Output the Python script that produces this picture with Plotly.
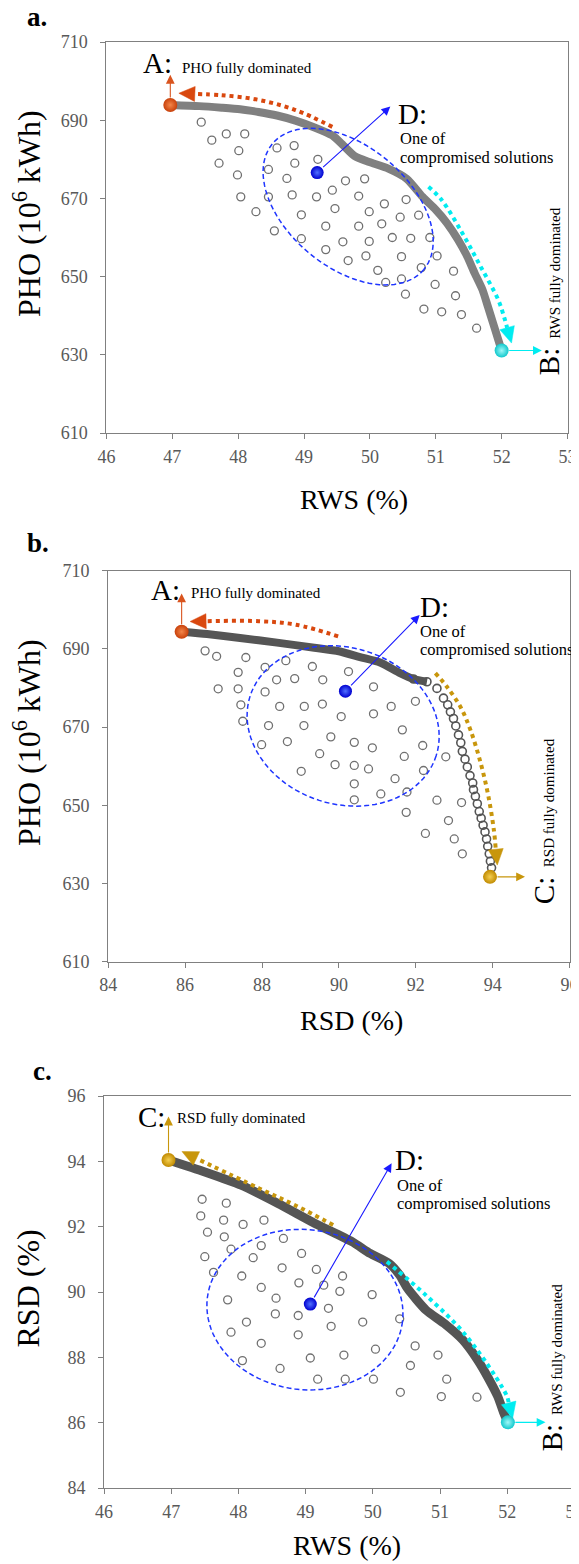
import math
import plotly.graph_objects as go

W, H = 579, 1564
OX, OY = 8, 8          # the page body adds an 8px margin; compensate
FONT = "Liberation Serif, Times New Roman, serif"

# ---------------- data ----------------
# panel a : RWS (%) vs PHO (10^6 kWh)
a_front_rws = [46.97, 47.41, 47.75, 48.03, 48.31, 48.59, 48.87, 49.15, 49.43, 49.60, 49.77, 49.99,
               50.28, 50.56, 50.80, 51.00, 51.17, 51.34, 51.48, 51.59, 51.71, 51.79, 51.87, 51.95, 52.00]
a_front_pho = [693.9, 693.6, 693.2, 692.8, 692.1, 691.2, 689.9, 688.2, 686.1, 683.5, 680.8, 679.3,
               677.6, 675.0, 670.4, 667.1, 663.7, 659.4, 655.1, 650.9, 646.6, 642.4, 638.1, 633.8, 631.1]
a_dom_rws = [47.44, 47.60, 47.82, 48.10, 48.01, 47.71, 47.99, 48.59, 48.85, 48.86, 49.21, 48.46, 48.74,
             49.63, 49.92, 49.43, 48.04, 48.46, 48.82, 49.19, 49.83, 48.27, 48.55, 48.96, 48.96, 49.33,
             49.33, 49.47, 49.59, 49.67, 49.83, 49.94, 49.99, 49.99, 50.18, 50.22, 50.12, 50.24, 50.34,
             50.46, 50.48, 50.48, 50.54, 50.55, 50.62, 50.74, 50.78, 50.91, 50.82, 50.99, 51.02, 51.09,
             51.27, 51.30, 51.39, 51.62]
a_dom_pho = [689.5, 684.9, 686.5, 686.5, 682.2, 679.0, 676.0, 682.9, 683.5, 679.0, 680.0, 677.4, 675.1,
             674.5, 675.0, 672.1, 670.4, 670.4, 670.9, 670.4, 670.6, 666.6, 661.7, 665.8, 659.7, 662.9,
             656.9, 667.4, 658.9, 654.1, 662.9, 655.3, 666.6, 659.0, 663.5, 668.6, 651.6, 648.5, 660.0,
             665.2, 655.1, 649.4, 645.5, 669.7, 659.8, 665.7, 652.3, 660.0, 641.7, 648.0, 655.3, 641.0,
             651.4, 645.1, 640.3, 636.8]
a_A = [46.97, 693.9]
a_B = [52.00, 631.1]
a_D = [49.20, 676.6]

# panel b : RSD (%) vs PHO (10^6 kWh)
b_front_rsd = [85.91, 86.57, 87.43, 88.39, 89.36, 90.00, 90.55, 91.07, 91.59, 91.94, 92.29, 92.55,
               92.72, 92.83, 92.90, 92.98, 93.04, 93.11, 93.17, 93.21, 93.28, 93.34, 93.41, 93.48,
               93.50, 93.55, 93.60, 93.65, 93.70, 93.75, 93.80, 93.84, 93.87, 93.91, 93.94, 93.97]
b_front_pho = [694.4, 693.8, 692.8, 691.6, 690.3, 689.4, 687.9, 686.5, 683.8, 682.3, 681.6, 679.9,
               677.4, 675.7, 673.9, 672.2, 670.3, 668.0, 666.0, 663.8, 661.8, 659.8, 657.6, 655.7,
               654.0, 652.3, 650.4, 648.4, 646.7, 644.9, 643.2, 641.4, 639.5, 637.6, 635.7, 634.0]
b_dom_rsd = [86.52, 86.82, 87.58, 87.38, 88.08, 88.62, 89.31, 90.25, 88.38, 88.85, 89.58, 86.86, 87.38,
             88.08, 90.90, 87.45, 88.46, 89.10, 89.57, 91.36, 91.99, 90.06, 90.90, 87.50, 88.17, 89.09,
             91.65, 87.99, 88.66, 89.50, 89.79, 90.40, 90.87, 91.70, 92.18, 92.78, 89.90, 90.40,
             90.77, 92.20, 89.02, 90.40, 91.46, 90.40, 91.09, 91.77, 92.55, 93.19, 91.75, 92.85, 92.25,
             93.00, 93.21]
b_dom_pho = [689.5, 688.1, 687.8, 684.0, 685.3, 687.0, 685.5, 684.2, 682.1, 682.4, 682.1, 679.8, 679.8,
             679.0, 680.3, 675.7, 675.3, 675.3, 675.9, 675.3, 676.6, 672.7, 673.4, 671.5, 670.4, 670.4,
             669.3, 665.5, 666.3, 663.2, 667.5, 666.1, 664.7, 662.5, 665.3, 662.4, 660.4, 660.2,
             659.3, 658.9, 658.7, 655.5, 656.8, 651.4, 652.9, 653.4, 651.3, 650.7, 648.2, 646.1, 642.8,
             641.4, 637.6]
b_A = [85.91, 694.4]
b_C = [93.93, 631.7]
b_D = [90.17, 679.2]

# panel c : RWS (%) vs RSD (%)
c_front_rws = [46.96, 47.49, 48.04, 48.59, 49.14, 49.69, 49.96, 50.24, 50.40, 50.52, 50.79, 51.06,
               51.34, 51.56, 51.72, 51.86, 51.95, 52.01]
c_front_rsd = [94.04, 93.68, 93.27, 92.71, 92.10, 91.54, 91.18, 90.88, 90.52, 90.10, 89.45, 89.04,
               88.53, 87.92, 87.36, 86.80, 86.29, 86.01]
c_dom_rws = [47.46, 47.82, 47.44, 47.78, 48.07, 48.38, 47.54, 47.79, 48.67, 47.89, 48.34, 47.50, 48.22,
             48.94, 47.63, 48.05, 48.65, 49.16, 49.55, 48.34, 48.90, 49.27, 49.51, 49.99, 47.84, 48.56,
             49.34, 48.55, 48.89, 50.40, 48.12, 49.85, 49.38, 47.89, 48.89, 48.34, 50.63, 50.04, 50.97,
             49.57, 49.07, 48.06, 50.56, 48.62, 49.18, 49.59, 50.01, 51.10, 50.41, 51.02, 51.55]
c_dom_rsd = [92.84, 92.72, 92.33, 92.20, 92.07, 92.20, 91.83, 91.69, 91.64, 91.31, 91.42, 91.08, 91.05,
             91.18, 90.60, 90.49, 90.74, 90.69, 90.49, 90.14, 90.28, 90.21, 90.02, 89.92, 89.76, 89.81,
             89.50, 89.33, 89.28, 89.18, 89.08, 89.08, 88.95, 88.77, 88.69, 88.43, 88.35, 88.25, 88.07,
             88.07, 87.98, 87.90, 87.75, 87.66, 87.33, 87.33, 87.33, 87.33, 86.93, 86.80, 86.78]
c_C = [46.96, 94.04]
c_B = [52.01, 86.01]
c_D = [49.07, 89.63]

rws_ticks = [46, 47, 48, 49, 50, 51, 52, 53]
rsd_ticks = [84, 86, 88, 90, 92, 94, 96]
pho_ticks = [610, 630, 650, 670, 690, 710]

# ---------------- layout geometry (target pixels in the screenshot) ----------------
P = {
    'a': dict(xa='x', ya='y', px=(106.4, 567.5), py=(42.0, 433.0), xr=(46, 53), yr=(610, 710)),
    'b': dict(xa='x2', ya='y2', px=(108.2, 569.6), py=(570.7, 961.7), xr=(84, 96), yr=(610, 710)),
    'c': dict(xa='x3', ya='y3', px=(104.0, 574.4), py=(1096.0, 1488.0), xr=(46, 53), yr=(84, 96)),
}
for p in P.values():
    p['sx'] = (p['px'][1] - p['px'][0]) / (p['xr'][1] - p['xr'][0])
    p['sy'] = (p['py'][1] - p['py'][0]) / (p['yr'][1] - p['yr'][0])


def fx(px):
    return (px - OX) / W


def fy(py):
    return 1 - (py - OY) / H


RED = '#d9480f'
CYAN = '#00ecf0'
GOLD = '#c8960c'
BLUE = '#1a1aff'
GRAYC = '#707070'

fig = go.Figure()


def tr(p, **kw):
    fig.add_trace(go.Scatter(xaxis=P[p]['xa'], yaxis=P[p]['ya'], showlegend=False,
                             hoverinfo='skip', **kw))


def dotted_arrow(p, pts, color, L=16, Wd=15):
    g = P[p]
    (x1, y1), (x0, y0) = pts[-1], pts[-2]
    ux, uy = (x1 - x0) * g['sx'], (y1 - y0) * g['sy']
    n = math.hypot(ux, uy)
    ux, uy = ux / n, uy / n
    bx, by = -L * ux, -L * uy
    nx, ny = -uy, ux
    base = (x1 + bx / g['sx'], y1 + by / g['sy'])
    v1 = (x1 + (bx + nx * Wd / 2) / g['sx'], y1 + (by + ny * Wd / 2) / g['sy'])
    v2 = (x1 + (bx - nx * Wd / 2) / g['sx'], y1 + (by - ny * Wd / 2) / g['sy'])
    lx = [q[0] for q in pts[:-1]] + [base[0]]
    ly = [q[1] for q in pts[:-1]] + [base[1]]
    tr(p, x=lx, y=ly, mode='lines', line=dict(color=color, width=4, dash='dot', shape='spline'))
    tr(p, x=[x1, v1[0], v2[0], x1], y=[y1, v1[1], v2[1], y1], mode='lines', fill='toself',
       fillcolor=color, line=dict(color=color, width=0.5))


def sphere(p, pt, col, center, size=14):
    tr(p, x=[pt[0]], y=[pt[1]], mode='markers',
       marker=dict(size=size, color=col, gradient=dict(type='radial', color=center),
                   line=dict(width=0)))


# ----- panel a -----
tr('a', x=a_dom_rws, y=a_dom_pho, mode='markers',
   marker=dict(symbol='circle-open', size=8, color=GRAYC, line=dict(width=1.3)))
tr('a', x=a_front_rws, y=a_front_pho, mode='lines',
   line=dict(color='#808080', width=8, shape='spline', smoothing=0.6))
dotted_arrow('a', [(49.43, 688.3), (48.87, 692.6), (48.31, 695.2), (47.75, 696.4), (47.10, 696.9)], RED)
dotted_arrow('a', [(50.89, 673.0), (51.09, 669.6), (51.40, 661.2), (51.68, 652.6), (51.95, 644.0),
                   (52.04, 639.5), (52.15, 633.0)], CYAN)
sphere('a', a_A, '#c8400a', '#f3864a')
sphere('a', a_B, '#10c8cc', '#9ff8f8')
sphere('a', a_D, '#0000d0', '#5070ff', 13)

# ----- panel b -----
tr('b', x=b_dom_rsd, y=b_dom_pho, mode='markers',
   marker=dict(symbol='circle-open', size=8, color=GRAYC, line=dict(width=1.3)))
tr('b', x=b_front_rsd[:11], y=b_front_pho[:11], mode='lines',
   line=dict(color='#555555', width=8, shape='spline', smoothing=0.6))
tr('b', x=b_front_rsd[9:], y=b_front_pho[9:], mode='markers',
   marker=dict(symbol='circle-open', size=8, color='#555555', line=dict(width=1.6)))
dotted_arrow('b', [(89.98, 693.2), (88.88, 696.2), (87.91, 697.1), (86.57, 697.1), (86.13, 697.0)], RED)
dotted_arrow('b', [(92.51, 683.8), (92.81, 680.3), (93.16, 675.2), (93.42, 669.3), (93.69, 660.7),
                   (93.89, 652.2), (94.03, 643.7), (94.12, 634.7)], GOLD)
sphere('b', b_A, '#c8400a', '#f3864a')
sphere('b', b_C, '#c08a00', '#f5cf50')
sphere('b', b_D, '#0000d0', '#5070ff', 13)

# ----- panel c -----
tr('c', x=c_dom_rws, y=c_dom_rsd, mode='markers',
   marker=dict(symbol='circle-open', size=8, color=GRAYC, line=dict(width=1.3)))
tr('c', x=c_front_rws, y=c_front_rsd, mode='lines',
   line=dict(color='#555555', width=9, shape='spline', smoothing=0.6))
dotted_arrow('c', [(49.41, 92.05), (48.85, 92.65), (48.31, 93.17), (47.16, 94.30)], GOLD)
dotted_arrow('c', [(50.21, 90.93), (50.79, 89.90), (51.34, 88.78), (51.83, 87.40), (52.00, 86.79),
                   (52.08, 86.13)], CYAN)
sphere('c', c_C, '#c08a00', '#f5cf50')
sphere('c', c_B, '#10c8cc', '#9ff8f8')
sphere('c', c_D, '#0000d0', '#5070ff', 13)


# ---------------- ellipses ----------------
def ellipse(p, cx, cy, a, b, deg):
    g = P[p]
    th = math.radians(deg)
    parts = []
    for k in range(97):
        t = 2 * math.pi * k / 96
        dx = a * math.cos(t) * math.cos(th) - b * math.sin(t) * math.sin(th)
        dy = a * math.cos(t) * math.sin(th) + b * math.sin(t) * math.cos(th)
        parts.append(f"{cx + dx / g['sx']:.4f},{cy - dy / g['sy']:.4f}")
    path = 'M' + ' L'.join(parts) + ' Z'
    return dict(type='path', path=path, xref=g['xa'], yref=g['ya'], layer='above',
                line=dict(color='#1f35ff', width=1.5, dash='5px,3px'))


shapes = [
    ellipse('a', 49.67, 667.9, 98.4, 60.7, 39.7),
    ellipse('b', 90.11, 670.3, 97.7, 78.2, 17.8),
    ellipse('c', 48.99, 89.46, 98.3, 80.0, 7.1),
]

# ---------------- annotations ----------------
ann = []


def txt(p, x, y, s, size, xanchor='center', angle=0):
    g = P[p]
    ann.append(dict(xref=g['xa'], yref=g['ya'], x=x, y=y, text=s, showarrow=False,
                    font=dict(family=FONT, size=size, color='black'),
                    xanchor=xanchor, yanchor='middle', textangle=angle))


def arr(p, tail, head, color):
    g = P[p]
    ann.append(dict(xref=g['xa'], yref=g['ya'], axref=g['xa'], ayref=g['ya'],
                    x=head[0], y=head[1], ax=tail[0], ay=tail[1], text='',
                    showarrow=True, arrowhead=2, arrowsize=1.6, arrowwidth=1.1,
                    arrowcolor=color, startstandoff=6, standoff=0))


def ptxt(px, py, s, size, bold=False, angle=0):
    ann.append(dict(xref='paper', yref='paper', x=fx(px), y=fy(py),
                    text=f'<b>{s}</b>' if bold else s, showarrow=False,
                    font=dict(family=FONT, size=size, color='black'),
                    xanchor='center', yanchor='middle', textangle=angle))


# panel a
arr('a', a_A, (46.97, 701.6), '#d9541e')
arr('a', a_B, (52.61, 631.1), CYAN)
arr('a', a_D, (50.31, 693.5), BLUE)
txt('a', 46.78, 704.6, 'A:', 29)
txt('a', 47.12, 703.4, 'PHO fully dominated', 15, 'left')
txt('a', 50.65, 691.7, 'D:', 29)
txt('a', 50.43, 685.3, 'One of', 16.5, 'left')
txt('a', 50.43, 680.4, 'compromised solutions', 16.5, 'left')
txt('a', 52.73, 628.3, 'B:', 29, angle=-90)
txt('a', 52.81, 651.0, 'RWS fully dominated', 15, angle=-90)

# panel b
arr('b', b_A, (85.91, 704.2), '#d9541e')
arr('b', b_C, (94.84, 631.7), GOLD)
arr('b', b_D, (92.10, 698.7), BLUE)
txt('b', 85.49, 705.0, 'A:', 29)
txt('b', 86.09, 704.2, 'PHO fully dominated', 15, 'left')
txt('b', 92.49, 700.7, 'D:', 29)
txt('b', 92.07, 694.5, 'One of', 16.5, 'left')
txt('b', 92.07, 689.8, 'compromised solutions', 16.5, 'left')
txt('b', 95.34, 628.1, 'C:', 29, angle=-90)
txt('b', 95.47, 650.6, 'RSD fully dominated', 15, angle=-90)

# panel c
arr('c', c_C, (46.96, 95.37), GOLD)
arr('c', c_B, (52.57, 86.01), CYAN)
arr('c', c_D, (50.28, 93.94), BLUE)
txt('c', 46.71, 95.36, 'C:', 29)
txt('c', 47.05, 95.32, 'RSD fully dominated', 15, 'left')
txt('c', 50.55, 94.03, 'D:', 29)
txt('c', 50.33, 93.27, 'One of', 16.5, 'left')
txt('c', 50.33, 92.70, 'compromised solutions', 16.5, 'left')
txt('c', 52.67, 85.53, 'B:', 29, angle=-90)
txt('c', 52.74, 88.25, 'RWS fully dominated', 15, angle=-90)

# panel letters & axis titles
ptxt(37, 17, 'a.', 27, bold=True)
ptxt(38, 543, 'b.', 27, bold=True)
ptxt(42.5, 1071, 'c.', 27, bold=True)
ptxt(354, 499, 'RWS (%)', 28)
ptxt(351, 1020, 'RSD (%)', 28)
ptxt(346.6, 1545, 'RWS (%)', 28)
ptxt(27, 214, 'PHO (10<sup>6</sup> kWh)', 32, angle=-90)
ptxt(27, 743, 'PHO (10<sup>6</sup> kWh)', 32, angle=-90)
ptxt(27, 1288.5, 'RSD (%)', 32, angle=-90)


# ---------------- axes ----------------
def axis(p, which, ticks):
    g = P[p]
    if which == 'x':
        dom = [fx(g['px'][0]), fx(g['px'][1])]
        rng = list(g['xr'])
        anchor = g['ya']
        standoff = 2
    else:
        dom = [fy(g['py'][1]), fy(g['py'][0])]
        rng = list(g['yr'])
        anchor = g['xa']
        standoff = 9
    return dict(domain=dom, range=rng, anchor=anchor, tickvals=ticks, automargin=False,
                showline=True, linecolor='#808080', linewidth=1, mirror=True,
                ticks='outside', ticklen=5, tickcolor='#808080', tickwidth=1,
                showgrid=False, zeroline=False, fixedrange=True,
                ticklabelstandoff=standoff,
                tickfont=dict(family=FONT, size=18, color='#595959'))


fig.update_layout(
    template='none',
    width=W, height=H, margin=dict(l=0, r=0, t=0, b=0, pad=0, autoexpand=False),
    font=dict(family=FONT),
    paper_bgcolor='white', plot_bgcolor='white', showlegend=False,
    xaxis=axis('a', 'x', rws_ticks), yaxis=axis('a', 'y', pho_ticks),
    xaxis2=axis('b', 'x', rsd_ticks), yaxis2=axis('b', 'y', pho_ticks),
    xaxis3=axis('c', 'x', rws_ticks), yaxis3=axis('c', 'y', rsd_ticks),
    shapes=shapes, annotations=ann,
)

fig.write_html("out.html")
